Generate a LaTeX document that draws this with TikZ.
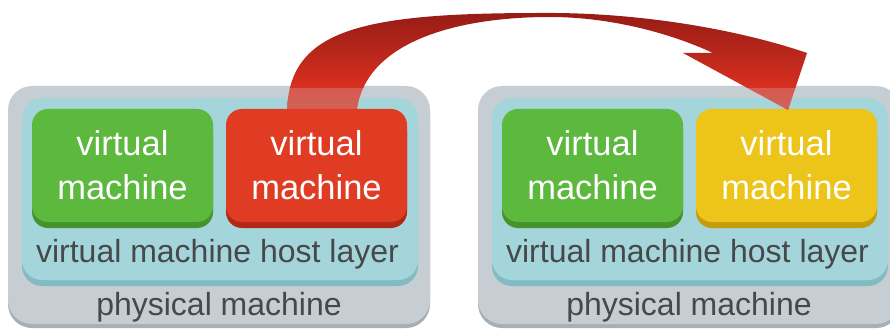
\documentclass[tikz,border=0pt]{standalone}
\usepackage{fontspec}
\setmainfont{Liberation Sans}
\usetikzlibrary{calc}
\definecolor{grayo}{HTML}{C7CED3}
\definecolor{grayd}{HTML}{A7AEB4}
\definecolor{cyanl}{HTML}{A3D5DB}
\definecolor{cyand}{HTML}{84BAC1}
\definecolor{greenl}{HTML}{5DB83E}
\definecolor{greend}{HTML}{45932B}
\definecolor{redl}{HTML}{E03B23}
\definecolor{redd}{HTML}{B02816}
\definecolor{yell}{HTML}{EDC419}
\definecolor{yeld}{HTML}{C39D0E}
\definecolor{txt}{HTML}{47484A}
\definecolor{arrdark}{HTML}{951C15}
\definecolor{arrlight}{HTML}{EC3524}
\tikzset{
  slab/.style={rounded corners=#1, inner sep=0pt, draw=none},
  pmbox/.style={slab=24pt, fill=grayo, minimum width=422pt, minimum height=238pt,
    preaction={fill=grayd, transform canvas={yshift=-4pt}}},
  hostbox/.style={slab=20pt, fill=cyanl, minimum width=396pt, minimum height=182pt,
    preaction={fill=cyand, transform canvas={yshift=-6pt}}},
  vmbox/.style={slab=16pt, minimum width=181pt, minimum height=113pt,
    text=white, align=center, font=\fontsize{34.5}{44}\selectfont},
  greenvm/.style={vmbox, fill=greenl, preaction={fill=greend, transform canvas={yshift=-6pt}}},
  redvm/.style={vmbox, fill=redl, preaction={fill=redd, transform canvas={yshift=-6pt}}},
  yellowvm/.style={vmbox, fill=yell, preaction={fill=yeld, transform canvas={yshift=-6pt}}},
  label/.style={anchor=base, text=txt, inner sep=0pt, font=\fontsize{32}{36}\selectfont},
}
\begin{document}
\begin{tikzpicture}[x=1pt, y=-1pt]
\clip (0,0) rectangle (890,331);
\fill[white] (0,0) rectangle (890,331);
% left panel
\node[pmbox] (pmL) at (219,205) {};
\node[hostbox] (hostL) at (220,189) {};
\node[greenvm] (vmL1) at (122.5,165.5) {virtual\\machine};
\node[redvm] (vmL2) at (316.5,165.5) {virtual\\machine};
\node[label] (hostLt) at (217.5,262) {virtual machine host layer};
\node[label] (pmLt) at (219,315) {physical machine};
% right panel
\node[pmbox] (pmR) at (689,205) {};
\node[hostbox] (hostR) at (690,189) {};
\node[greenvm] (vmR1) at (592.5,165.5) {virtual\\machine};
\node[yellowvm] (vmR2) at (786.5,165.5) {virtual\\machine};
\node[label] (hostRt) at (687.5,262) {virtual machine host layer};
\node[label] (pmRt) at (689,315) {physical machine};
% migration arrow from the red virtual machine to the yellow one
\def\migrationpath{(287,110) .. controls (290,30) and (360,13) .. (540,13)
   .. controls (640,12) and (740,30) .. (807,53)
   -- (788,110) -- (683,53) -- (713,53)
   .. controls (670,33) and (610,17) .. (550,17)
   .. controls (450,17) and (365,45) .. (357,110) -- cycle}
\begin{scope}
  \clip (0,0) rectangle (890,88);
  \shade[top color=arrdark, bottom color=arrlight] \migrationpath;
\end{scope}
\begin{scope}
  \clip (0,88) rectangle (890,109);
  \shade[top color=arrdark, bottom color=arrlight, opacity=0.72] \migrationpath;
\end{scope}
\begin{scope}
  \clip (560,109) rectangle (890,331);
  \shade[top color=arrdark, bottom color=arrlight, opacity=0.72] \migrationpath;
\end{scope}
\end{tikzpicture}
\end{document}
